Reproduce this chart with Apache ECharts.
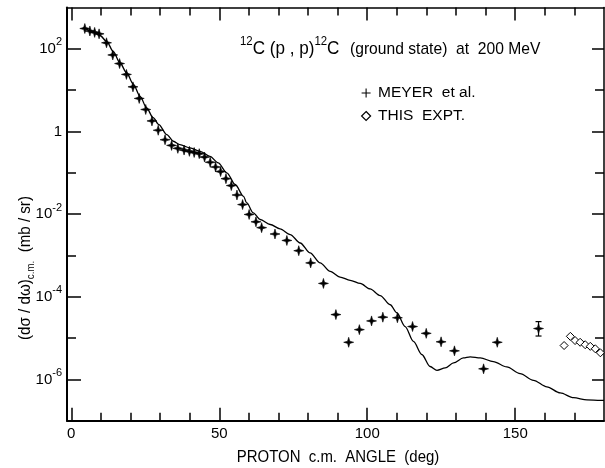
<!DOCTYPE html>
<html><head><meta charset="utf-8">
<script src="https://cdn.jsdelivr.net/npm/echarts@6/dist/echarts.min.js"></script>
<style>html,body{margin:0;padding:0;background:#fff}#c{width:605px;height:468px}</style>
</head><body><div id="c"></div>
<script>
const FONT = "'Liberation Sans',Arial,Helvetica,sans-serif";

// MEYER et al. (crosses)
const meyerAngles = [4.57,6.28,7.89,9.39,11.9,14.01,16.32,18.63,20.84,22.95,25.15,27.26,29.37,31.68,33.89,36.0,38.11,39.91,41.52,43.23,45.03,46.94,48.75,50.45,52.26,54.07,55.98,57.88,60.09,62.4,64.31,68.83,72.84,76.86,80.88,85.2,89.41,93.73,97.34,101.46,105.27,110.19,115.31,119.93,124.95,129.47,139.31,143.93,157.88];
const meyerValues = [3.1e2,2.7e2,2.5e2,2.3e2,1.4e2,7.1e1,4.4e1,2.4e1,1.2e1,6.3,3.4,1.8,1.07,0.63,0.46,0.39,0.355,0.33,0.31,0.29,0.24,0.18,0.138,0.107,0.072,0.049,0.029,0.017,9.8e-3,6.5e-3,4.7e-3,3.3e-3,2.3e-3,1.3e-3,6.6e-4,2.1e-4,3.7e-5,7.9e-6,1.6e-5,2.6e-5,3.2e-5,3.1e-5,1.9e-5,1.3e-5,8.1e-6,4.9e-6,1.8e-6,7.9e-6,1.7e-5];

// error bar on the 158 deg point
const errAngles = [157.88];
const errLow = [1.12e-5];
const errHigh = [2.5e-5];

// THIS EXPT. (diamonds)
const exptAngles = [166.52,168.63,170.23,171.94,173.65,175.36,177.06,178.77];
const exptValues = [6.6e-6,1.1e-5,8.7e-6,7.9e-6,6.9e-6,6.3e-6,5.5e-6,4.4e-6];

// theory curve
const theoryAngles = [4.07,6.88,9.69,12.0,14.21,16.42,18.73,20.94,23.25,25.46,27.66,29.57,32.28,34.49,36.7,40.11,43.53,46.84,49.65,52.56,55.38,58.19,59.29,61.5,63.81,67.22,70.54,73.95,77.36,80.68,84.09,87.5,90.82,94.23,97.64,100.96,104.37,107.78,109.99,112.81,115.62,118.43,121.24,123.55,126.36,129.17,132.48,134.79,138.2,142.62,147.14,151.66,156.17,160.69,165.21,169.73,174.25,178.77,180];
const theoryValues = [3.3e2,2.7e2,2.1e2,1.5e2,8.5e1,4.6e1,2.6e1,1.4e1,7.1,3.7,2.15,1.47,0.84,0.58,0.48,0.40,0.33,0.25,0.174,0.10,0.052,0.027,0.0186,0.0107,7.4e-3,5.6e-3,4.4e-3,3.2e-3,2.0e-3,1.15e-3,6.6e-4,4.1e-4,3.0e-4,2.5e-4,2.1e-4,1.55e-4,1.07e-4,6.4e-5,4.1e-5,1.9e-5,8.3e-6,4.0e-6,2.05e-6,1.66e-6,1.9e-6,2.5e-6,3.3e-6,3.5e-6,3.3e-6,2.7e-6,2.0e-6,1.38e-6,9.5e-7,6.6e-7,4.7e-7,3.6e-7,3.2e-7,3.1e-7,3.1e-7];

// ticks
const xMajorTicks = [0,50,100,150];
const xMinorTicks = [10,20,30,40,60,70,80,90,110,120,130,140,160,170];
const yMajorTicks = [1e-6,1e-4,1e-2,1,1e2];
const yMinorTicks = [1e-5,1e-3,1e-1,1e1];

const zip = (a,b) => a.map((v,i)=>[v,b[i]]);

const starPath = 'path://M0,-5L1.1,-1.1L5,0L1.1,1.1L0,5L-1.1,1.1L-5,0L-1.1,-1.1Z';
const plusPath = 'path://M-0.6,-5H0.6V-0.6H5V0.6H0.6V5H-0.6V0.6H-5V-0.6H-0.6Z';
const diamondPath = 'path://M0,-5L5,0L0,5L-5,0Z';

const XMIN = -1.45, XMAX = 180, YMIN = 1e-7, YMAX = 1e3;

function xAx(pos, ticks, len, showLabel, lineW) {
  return {
    type:'value', position:pos, min:XMIN, max:XMAX,
    axisLine:{show: lineW>0, onZero:false, lineStyle:{color:'#000', width:lineW||1}},
    axisTick:{show:true, inside:true, length:len, customValues:ticks, lineStyle:{color:'#000', width:1.5}},
    axisLabel:{show:showLabel, customValues:ticks, margin:6, color:'#000', fontFamily:FONT, fontSize:15,
      formatter: v => String(v)},
    splitLine:{show:false}
  };
}
function yAx(pos, ticks, len, showLabel, lineW) {
  return {
    type:'log', logBase:10, position:pos, min:YMIN, max:YMAX,
    axisLine:{show: lineW>0, onZero:false, lineStyle:{color:'#000', width:lineW||1}},
    axisTick:{show:true, inside:true, length:len, customValues:ticks, lineStyle:{color:'#000', width:1.5}},
    axisLabel:{show:showLabel, customValues:ticks, margin:5, color:'#000',
      formatter: function(v){ const e = Math.round(Math.log10(v)); return e===0 ? '{b|1}' : '{b|10}{s|'+e+'}'; },
      rich:{
        b:{fontFamily:FONT, fontSize:15, color:'#000', lineHeight:24},
        s:{fontFamily:FONT, fontSize:11, color:'#000', lineHeight:12, verticalAlign:'top'}
      }},
    splitLine:{show:false}, minorTick:{show:false}, minorSplitLine:{show:false}
  };
}

const chart = echarts.init(document.getElementById('c'), null, {renderer:'canvas'});
chart.setOption({
  animation:false,
  backgroundColor:'#fff',
  textStyle:{fontFamily:FONT},
  grid:{left:67, right:1, top:7.5, bottom:47.3, containLabel:false},
  xAxis:[
    xAx('bottom', xMajorTicks, 13, true, 2),
    xAx('bottom', xMinorTicks, 8, false, 0),
    xAx('top', xMajorTicks, 13, false, 1.5),
    xAx('top', xMinorTicks, 8, false, 0)
  ],
  yAxis:[
    yAx('left', yMajorTicks, 14, true, 2),
    yAx('left', yMinorTicks, 9, false, 0),
    yAx('right', yMajorTicks, 12, false, 1.5),
    yAx('right', yMinorTicks, 9, false, 0)
  ],
  legend:{
    orient:'vertical', left:356, top:79, itemWidth:14, itemHeight:9, itemGap:5,
    selectedMode:false,
    textStyle:{fontFamily:FONT, fontSize:15.5, color:'#000', lineHeight:18},
    data:[
      {name:'MEYER  et al.', icon:plusPath, itemStyle:{color:'#000', borderWidth:0}},
      {name:'THIS  EXPT.', icon:diamondPath, itemStyle:{color:'#fff', borderColor:'#000', borderWidth:1.2}}
    ]
  },
  graphic:[
    {type:'text', x:240, y:49, scaleX:0.95, style:{
      text:'{s|12}{m|C (p , p)}{s|12}{m|C}', verticalAlign:'middle', align:'left',
      rich:{
        m:{font:"18px "+FONT, fill:'#000', lineHeight:26},
        s:{font:"12px "+FONT, fill:'#000', lineHeight:12, verticalAlign:'top'}
      }}},
    {type:'text', x:350, y:49, scaleX:0.92, style:{text:'(ground state)  at  200 MeV', font:"17px "+FONT, fill:'#000', verticalAlign:'middle', align:'left'}},
    {type:'text', x:338, y:457, scaleX:0.88, style:{text:'PROTON  c.m.  ANGLE  (deg)', font:"17px "+FONT, fill:'#000', verticalAlign:'middle', align:'center'}},
    {type:'text', x:25, y:268, rotation:Math.PI/2, scaleX:0.89, style:{
      text:'{a|(dσ / dω)}{b|c.m.}{a|  (mb / sr)}', verticalAlign:'middle', align:'center',
      rich:{
        a:{font:"17px "+FONT, fill:'#000', lineHeight:22},
        b:{font:"11px "+FONT, fill:'#000', lineHeight:12, verticalAlign:'bottom'}
      }}}
  ],
  series:[
    {type:'line', name:'theory', data:zip(theoryAngles, theoryValues), showSymbol:false, symbol:'none',
      smooth:0.3, smoothMonotone:'x', lineStyle:{color:'#000', width:1.3}, z:2, silent:true},
    {type:'scatter', name:'MEYER  et al.', data:zip(meyerAngles, meyerValues), symbol:starPath, symbolSize:10,
      itemStyle:{color:'#000', borderColor:'#000', borderWidth:0.6, opacity:1}, z:3},
    {type:'scatter', name:'THIS  EXPT.', data:zip(exptAngles, exptValues), symbol:diamondPath, symbolSize:8,
      itemStyle:{color:'#fff', borderColor:'#000', borderWidth:1, opacity:1}, z:4},
    {type:'custom', name:'err', data:errAngles.map((a,i)=>[a, errLow[i], errHigh[i]]),
      encode:{x:0, y:[1,2]}, z:3,
      renderItem:function(params, api){
        const x = api.value(0);
        const p1 = api.coord([x, api.value(1)]);
        const p2 = api.coord([x, api.value(2)]);
        const st = {stroke:'#000', lineWidth:1.2};
        return {type:'group', children:[
          {type:'line', shape:{x1:p1[0], y1:p1[1], x2:p2[0], y2:p2[1]}, style:st},
          {type:'line', shape:{x1:p1[0]-3, y1:p1[1], x2:p1[0]+3, y2:p1[1]}, style:st},
          {type:'line', shape:{x1:p2[0]-3, y1:p2[1], x2:p2[0]+3, y2:p2[1]}, style:st}
        ]};
      }}
  ]
});
</script></body></html>
